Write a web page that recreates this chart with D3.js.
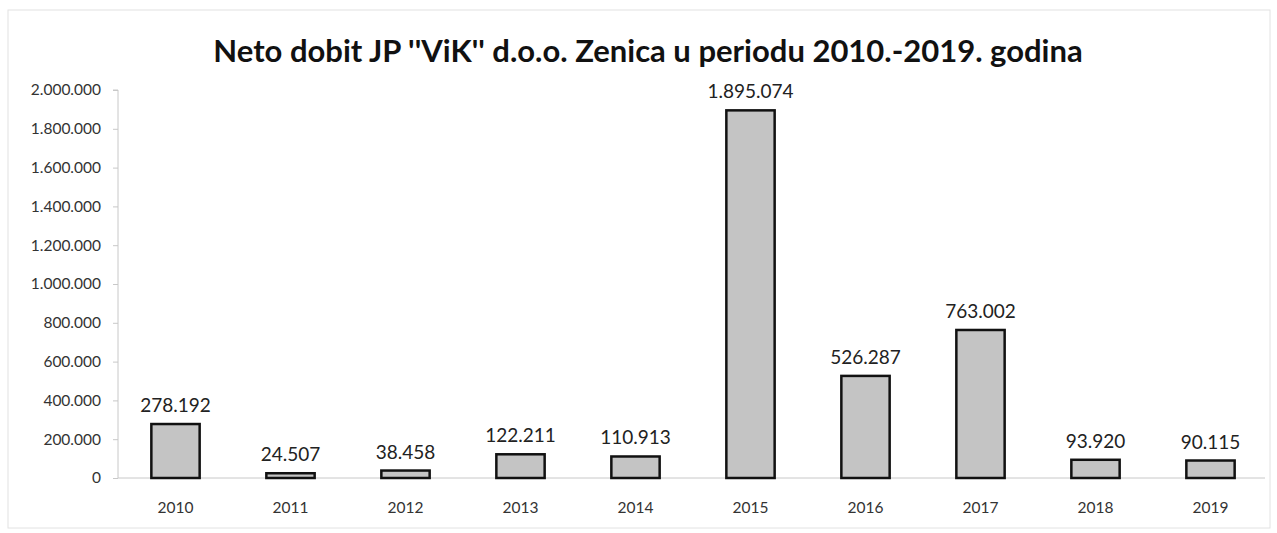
<!DOCTYPE html>
<html>
<head>
<meta charset="utf-8">
<script src="https://d3js.org/d3.v7.min.js"></script>
<style>
  body { margin: 0; background: #fff; }
  svg { font-family: Lato, "Open Sans", sans-serif; }
  .title { font-size: 31px; font-weight: bold; fill: #111; }
  .value { font-size: 19px; fill: #222; }
  .axis text { font-size: 15.5px; fill: #333; }
  .axis path, .axis line { stroke: #c8c8c8; }
  .bar { fill: #c4c4c4; stroke: #111; stroke-width: 2.5px; }
</style>
</head>
<body>
<svg width="1277" height="533"></svg>
<script>
const years = ['2010', '2011', '2012', '2013', '2014', '2015', '2016', '2017', '2018', '2019'];
const profit = [278192, 24507, 38458, 122211, 110913, 1895074, 526287, 763002, 93920, 90115];
const yTicks = [0, 200000, 400000, 600000, 800000, 1000000, 1200000, 1400000, 1600000, 1800000, 2000000];

const svg = d3.select('svg');

// thousands with dots, like the source
const fmt = (v) => d3.format(',')(v).replace(/,/g, '.');

svg.append('rect')
  .attr('x', 8).attr('y', 10)
  .attr('width', 1262).attr('height', 518)
  .attr('fill', 'none')
  .attr('stroke', '#e2e2e2');

const plotLeft = 118, plotRight = 1268, plotTop = 90, plotBottom = 478;

const xScale = d3.scaleBand()
  .range([plotLeft, plotRight])
  .domain(years)
  .paddingInner(0.58)
  .paddingOuter(0.29);

const yScale = d3.scaleLinear()
  .range([plotBottom, plotTop])
  .domain([0, 2000000]);

svg.append('g')
  .attr('class', 'axis')
  .attr('transform', `translate(${plotLeft}, 0)`)
  .call(d3.axisLeft(yScale).tickValues(yTicks).tickFormat(fmt).tickSize(5).tickPadding(12))
  .attr('font-size', null).attr('font-family', null)
  .call(g => g.select('.domain').attr('d', `M-5,${plotTop}H0V${plotBottom}`));

svg.append('g')
  .attr('class', 'axis')
  .attr('transform', `translate(0, ${plotBottom})`)
  .call(d3.axisBottom(xScale).tickSize(0).tickPadding(24))
  .attr('font-size', null).attr('font-family', null)
  .call(g => g.select('.domain').attr('d', `M${plotLeft},0H${plotRight - 3}`));

const data = years.map((y, i) => ({ year: y, value: profit[i] }));

svg.selectAll('.bar')
  .data(data)
  .enter()
  .append('rect')
  .attr('class', 'bar')
  .attr('x', d => xScale(d.year))
  .attr('y', d => yScale(d.value))
  .attr('width', xScale.bandwidth())
  .attr('height', d => plotBottom - yScale(d.value));

svg.selectAll('.value')
  .data(data)
  .enter()
  .append('text')
  .attr('class', 'value')
  .attr('x', d => xScale(d.year) + xScale.bandwidth() / 2)
  .attr('y', d => yScale(d.value) - 12)
  .attr('text-anchor', 'middle')
  .text(d => fmt(d.value));

svg.append('text')
  .attr('class', 'title')
  .attr('x', 648)
  .attr('y', 62)
  .attr('text-anchor', 'middle')
  .text("Neto dobit JP ''ViK'' d.o.o. Zenica u periodu 2010.-2019. godina");
</script>
</body>
</html>
